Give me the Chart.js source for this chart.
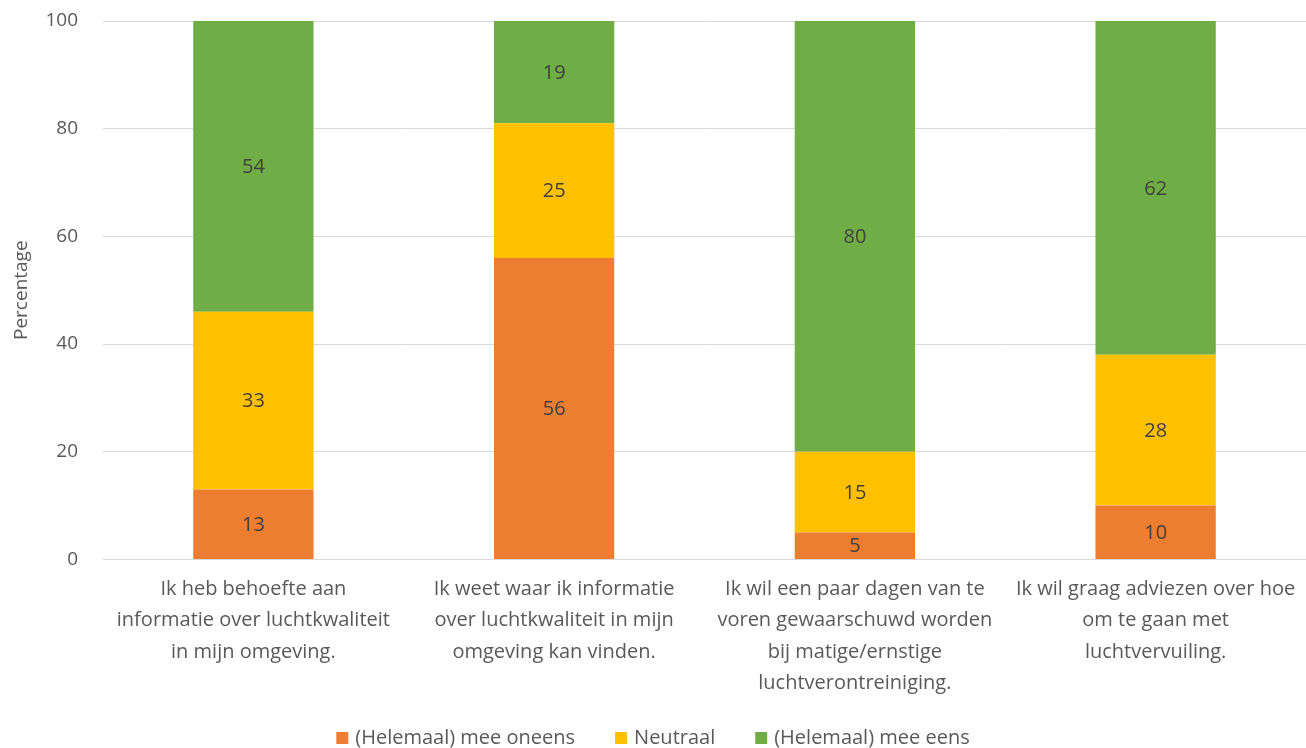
<!DOCTYPE html>
<html>
<head>
<meta charset="utf-8">
<script src="https://cdn.jsdelivr.net/npm/chart.js@4"></script>
<style>
  html, body { margin: 0; padding: 0; background: #fff; }
  #wrap { width: 1306px; height: 748px; }
</style>
</head>
<body>
<div id="wrap"><canvas id="chart"></canvas></div>
<script>
const categories = [
    ["Ik heb behoefte aan", "informatie over luchtkwaliteit", "in mijn omgeving."],
    ["Ik weet waar ik informatie", "over luchtkwaliteit in mijn", "omgeving kan vinden."],
    ["Ik wil een paar dagen van te", "voren gewaarschuwd worden", "bij matige/ernstige", "luchtverontreiniging."],
    ["Ik wil graag adviezen over hoe", "om te gaan met", "luchtvervuiling."]
];
const oneens = [13, 56, 5, 10];
const neutraal = [33, 25, 15, 28];
const eens = [54, 19, 80, 62];

const labelFont = "'Open Sans', 'Liberation Sans', sans-serif";
const textColor = '#595959';

// simple data labels in the middle of each bar segment
const barLabels = {
    id: 'barLabels',
    afterDatasetsDraw(chart) {
        const ctx = chart.ctx;
        ctx.save();
        ctx.font = "20px " + labelFont;
        ctx.fillStyle = '#404040';
        ctx.textAlign = 'center';
        ctx.textBaseline = 'middle';
        chart.data.datasets.forEach((ds, i) => {
            chart.getDatasetMeta(i).data.forEach((bar, j) => {
                const mid = (bar.y + bar.base) / 2;
                ctx.fillText(ds.data[j], bar.x, mid + 1);
            });
        });
        ctx.restore();
    }
};

// legend drawn by hand so the spacing can follow the original
const bottomLegend = {
    id: 'bottomLegend',
    afterDraw(chart) {
        const ctx = chart.ctx;
        const box = 12, gap = 7, spacing = 40, y = 738;
        ctx.save();
        ctx.font = "20px " + labelFont;
        ctx.textBaseline = 'middle';
        const items = chart.data.datasets.map(ds => ({
            text: ds.label, color: ds.backgroundColor, w: ctx.measureText(ds.label).width
        }));
        let total = items.reduce((s, it) => s + box + gap + it.w, 0) + spacing * (items.length - 1);
        let x = (chart.width - total) / 2;
        items.forEach(it => {
            ctx.fillStyle = it.color;
            ctx.fillRect(x, y - box / 2, box, box);
            ctx.fillStyle = textColor;
            ctx.fillText(it.text, x + box + gap, y);
            x += box + gap + it.w + spacing;
        });
        ctx.restore();
    }
};

new Chart(document.getElementById('chart'), {
    type: 'bar',
    data: {
        labels: categories,
        datasets: [
            { label: '(Helemaal) mee oneens', data: oneens, backgroundColor: '#ED7D31' },
            { label: 'Neutraal', data: neutraal, backgroundColor: '#FFC000' },
            { label: '(Helemaal) mee eens', data: eens, backgroundColor: '#70AD47' }
        ]
    },
    options: {
        responsive: true,
        maintainAspectRatio: false,
        animation: false,
        categoryPercentage: 0.4,
        barPercentage: 1,
        layout: { padding: { left: 6, right: 0, top: 0, bottom: 43 } },
        scales: {
            x: {
                stacked: true,
                grid: { display: false },
                border: { color: '#D9D9D9' },
                ticks: {
                    maxRotation: 0,
                    autoSkip: false,
                    color: textColor,
                    padding: 6,
                    font: { family: labelFont, size: 20, lineHeight: 1.57 }
                }
            },
            y: {
                stacked: true,
                min: 0,
                max: 100,
                afterFit: (scale) => { scale.width = 97; scale.paddingTop = 21; },
                ticks: {
                    stepSize: 20,
                    color: textColor,
                    padding: 25,
                    font: { family: labelFont, size: 19 }
                },
                grid: { color: '#D9D9D9', drawTicks: false },
                border: { display: false },
                title: {
                    display: true,
                    text: 'Percentage',
                    color: textColor,
                    padding: { top: 4, bottom: 0 },
                    font: { family: labelFont, size: 19 }
                }
            }
        },
        plugins: {
            legend: { display: false },
            tooltip: { enabled: false }
        }
    },
    plugins: [barLabels, bottomLegend]
});
</script>
</body>
</html>
